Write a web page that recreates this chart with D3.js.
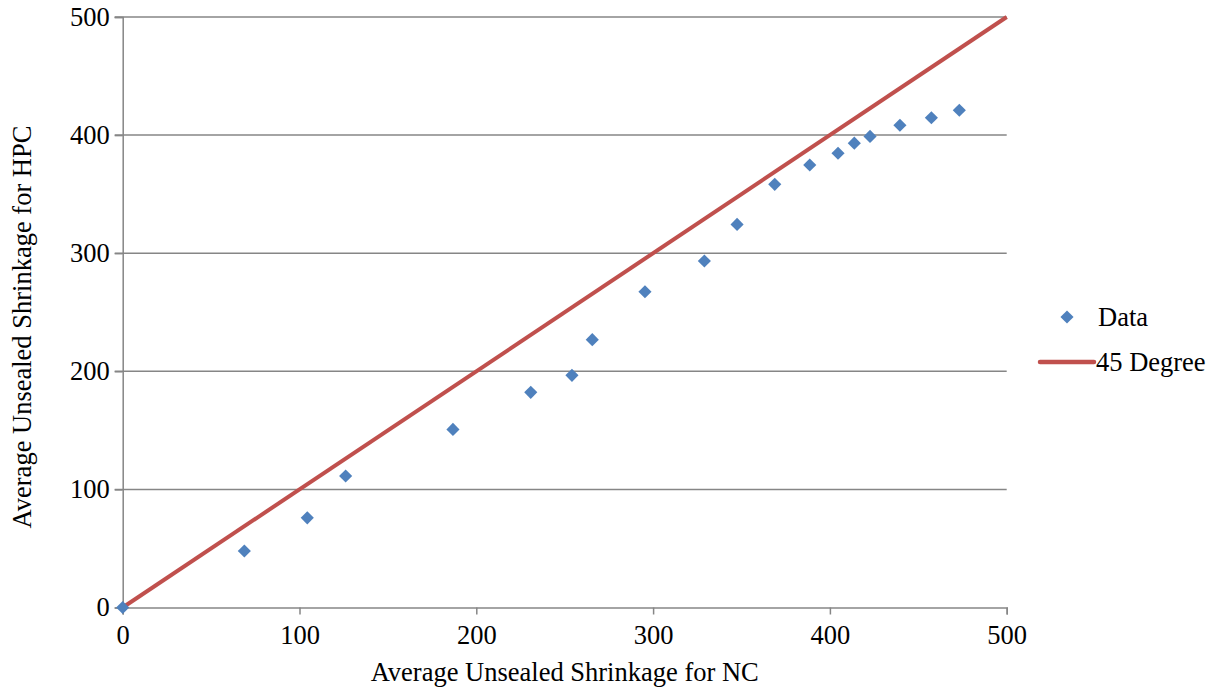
<!DOCTYPE html>
<html>
<head>
<meta charset="utf-8">
<script src="https://cdn.jsdelivr.net/npm/d3@7"></script>
<style>
html,body{margin:0;padding:0;background:#fff;}
svg text{font-family:"Liberation Serif","Times New Roman","DejaVu Serif",serif !important;fill:#000;}
</style>
</head>
<body>
<svg id="chart" width="1219" height="690"></svg>
<script>
const nc  = [0, 68.8, 104.4, 126.1, 186.8, 230.8, 254.1, 265.6, 295.4, 329.0, 347.5, 368.8, 388.6, 404.6, 413.8, 422.7, 439.6, 457.4, 473.2];
const hpc = [0, 47.8, 75.9, 111.3, 150.8, 182.2, 196.6, 226.8, 267.4, 293.4, 324.4, 358.3, 374.7, 384.6, 393.2, 398.9, 408.3, 414.7, 421.0];
const lineX = [0, 500];
const lineY = [0, 500];
const ticks = [0, 100, 200, 300, 400, 500];
const seriesNames = ["Data", "45 Degree"];
const xTitle = "Average Unsealed Shrinkage for NC";
const yTitle = "Average Unsealed Shrinkage for HPC";

const svg = d3.select("#chart");
const L = 122.7, R = 1006.7, T = 17, B = 607.5;
const x = d3.scaleLinear().domain([0, 500]).range([L, R]);
const y = d3.scaleLinear().domain([0, 500]).range([B, T]);
const grey = "#868686";
const fs = 26.5;
const ff = '"Liberation Serif","Times New Roman",serif';

// gridlines
svg.append("g").selectAll("line").data(ticks.filter(t => t > 0)).join("line")
  .attr("x1", L - 8).attr("x2", R).attr("y1", d => y(d)).attr("y2", d => y(d))
  .attr("stroke", grey).attr("stroke-width", 1.5);

// y axis
const yAxis = svg.append("g").attr("transform", `translate(${L},0)`)
  .call(d3.axisLeft(y).tickValues(ticks).tickSize(8).tickPadding(5).tickFormat(d3.format("d")));
yAxis.attr("font-family", null);
yAxis.select(".domain").attr("stroke", grey).attr("stroke-width", 1.5);
yAxis.selectAll(".tick line").attr("stroke", grey).attr("stroke-width", 1.5);
yAxis.selectAll("text").style("font-size", fs + "px").style("font-family", ff).attr("fill", "#000");

// x axis
const xAxis = svg.append("g").attr("transform", `translate(0,${B})`)
  .call(d3.axisBottom(x).tickValues(ticks).tickSize(7).tickPadding(11).tickFormat(d3.format("d")));
xAxis.attr("font-family", null);
xAxis.select(".domain").attr("stroke", grey).attr("stroke-width", 1.5);
xAxis.selectAll(".tick line").attr("stroke", grey).attr("stroke-width", 1.5);
xAxis.selectAll("text").style("font-size", fs + "px").style("font-family", ff).attr("fill", "#000");

// 45 degree line
const pts = lineX.map((v, i) => [v, lineY[i]]);
svg.append("path").datum(pts)
  .attr("d", d3.line().x(d => x(d[0])).y(d => y(d[1])))
  .attr("stroke", "#C0504D").attr("stroke-width", 4).attr("fill", "none");

// data points
const diamond = d3.symbol().type(d3.symbolDiamond2).size(110);
svg.append("g").selectAll("path").data(nc.map((v, i) => [v, hpc[i]])).join("path")
  .attr("d", diamond)
  .attr("transform", d => `translate(${x(d[0])},${y(d[1])})`)
  .attr("fill", "#4F81BD");

// titles
svg.append("text").attr("x", (L + R) / 2).attr("y", 681).attr("text-anchor", "middle")
  .style("font-size", fs + "px").style("font-family", ff).text(xTitle);
svg.append("text").attr("transform", `translate(31,327) rotate(-90)`).attr("text-anchor", "middle")
  .style("font-size", fs + "px").style("font-family", ff).text(yTitle);

// legend
const lg = svg.append("g");
lg.append("path").attr("d", diamond).attr("transform", "translate(1067,317)").attr("fill", "#4F81BD");
lg.append("text").attr("x", 1098).attr("y", 326).style("font-size", fs + "px").style("font-family", ff).text(seriesNames[0]);
lg.append("line").attr("x1", 1040).attr("x2", 1094).attr("y1", 362).attr("y2", 362)
  .attr("stroke", "#C0504D").attr("stroke-width", 4.5).attr("stroke-linecap", "round");
lg.append("text").attr("x", 1096).attr("y", 371).style("font-size", fs + "px").style("font-family", ff).text(seriesNames[1]);
</script>
</body>
</html>
